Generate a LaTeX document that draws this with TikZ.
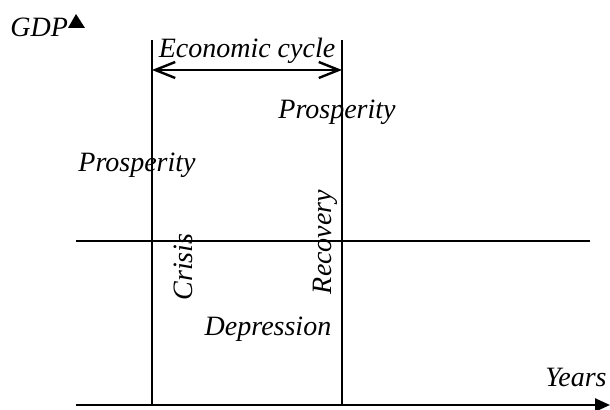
\documentclass[tikz,border=0pt]{standalone}
\usepackage{fontspec}
\setmainfont{Liberation Serif}
\usetikzlibrary{arrows.meta, positioning}

\begin{document}
\begin{tikzpicture}[x=0.5pt, y=-0.5pt,
  lbl/.style={font=\fontsize{14}{16}\selectfont\itshape, inner sep=0pt},
  rule/.style={line width=1.2pt},
  axis/.style={line width=1.2pt, -{Triangle[length=7.5pt, width=6.5pt]}},
  cycle/.style={line width=1.2pt, {Straight Barb[length=10pt, width=8pt]}-{Straight Barb[length=10pt, width=8pt]}}
]
  \useasboundingbox (0,0) rectangle (610,410);

  % axes
  \coordinate (origin) at (76,405);
  \coordinate (xend)   at (610,405);
  \coordinate (mid0)   at (76,241);
  \coordinate (mid1)   at (590,241);
  \draw[axis] (origin) -- (xend);
  \draw[rule] (mid0) -- (mid1);
  \fill (68,28) -- (76,14) -- (85,28) -- cycle;

  % phase borders
  \coordinate (crisisTop)   at (152,40);
  \coordinate (crisisBot)   at (152,405);
  \coordinate (recovTop)    at (342,40);
  \coordinate (recovBot)    at (342,405);
  \draw[rule] (crisisTop) -- (crisisBot);
  \draw[rule] (recovTop) -- (recovBot);

  \coordinate (span0) at (152,70);
  \coordinate (span1) at (342,70);
  \draw[cycle] (span0) -- (span1);

  % labels
  \node[lbl, anchor=base west] (gdp)    at (10,37)   {GDP};
  \node[lbl, anchor=base east] (years)  at (607,387) {Years};
  \node[lbl, anchor=base]      (ecyc)   at (247,58)  {Economic cycle};
  \node[lbl]                   (prosp1) at (337,112) {Prosperity};
  \node[lbl]                   (prosp0) at (137,165) {Prosperity};
  \node[lbl, rotate=90]        (crisis) at (183,267) {Crisis};
  \node[lbl, rotate=90]        (recov)  at (325,242) {Recovery};
  \node[lbl]                   (depr)   at (268,329) {Depression};
\end{tikzpicture}
\end{document}
